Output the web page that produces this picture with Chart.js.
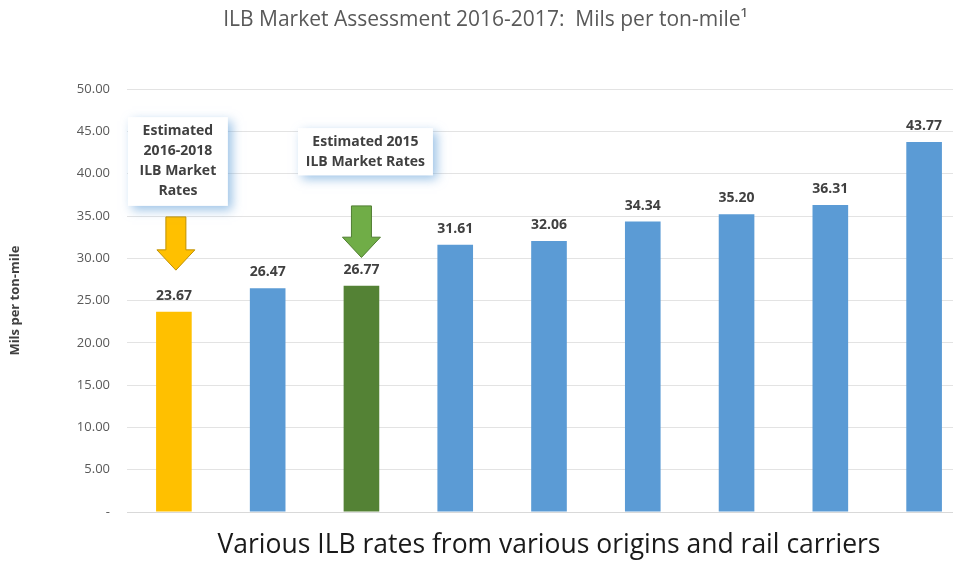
<!DOCTYPE html>
<html>
<head>
<meta charset="utf-8">
<title>ILB Market Assessment</title>
<script src="https://cdn.jsdelivr.net/npm/chart.js@4.4.1/dist/chart.umd.min.js"></script>
<style>
  body { margin: 0; background: #fff; }
  #div_grafico { width: 953px; height: 561px; overflow: hidden; }
</style>
</head>
<body>
<div id="div_grafico">
  <canvas id="graficoTaxas" width="975" height="561"></canvas>
</div>
<script>
// dados
const categoriasTaxas = ["Est. 2016-2018", "Rate 2", "Est. 2015", "Rate 4", "Rate 5", "Rate 6", "Rate 7", "Rate 8", "Rate 9"];
const valoresTaxas = [23.67, 26.47, 26.77, 31.61, 32.06, 34.34, 35.20, 36.31, 43.77];
const coresBarras = ["#FFC000", "#5B9BD5", "#548235", "#5B9BD5", "#5B9BD5", "#5B9BD5", "#5B9BD5", "#5B9BD5", "#5B9BD5"];
const eixoYMin = 0;
const eixoYMax = 50;
const eixoYPasso = 5;

// caixas de texto e setas (em unidades do eixo Y)
const caixasTexto = [
  { barra: 0, linhas: ["Estimated", "2016-2018", "ILB Market", "Rates"], topo: 46.7, base: 36.2, dx: 4, largura: 100 },
  { barra: 2, linhas: ["Estimated 2015", "ILB Market Rates"], topo: 45.4, base: 39.8, dx: 4, largura: 135 },
];
const setas = [
  { barra: 0, inicio: 34.9, cabeca: 31.0, ponta: 28.6, dx: 2, cor: "#FFC000", borda: "#BF9000" },
  { barra: 2, inicio: 36.2, cabeca: 32.5, ponta: 30.1, dx: 0, cor: "#70AD47", borda: "#507E32" },
];

const fonte = "'Open Sans', 'Liberation Sans', sans-serif";

const pluginAnotacoes = {
  id: "anotacoes",
  afterDatasetsDraw(chart) {
    const ctx = chart.ctx;
    const x = chart.scales.x;
    const y = chart.scales.y;
    const meta = chart.getDatasetMeta(0);

    // rotulos dos valores
    ctx.save();
    ctx.font = "bold 14px " + fonte;
    ctx.fillStyle = "#404040";
    ctx.textAlign = "center";
    ctx.textBaseline = "bottom";
    meta.data.forEach((barra, i) => {
      ctx.fillText(valoresTaxas[i].toFixed(2), barra.x, barra.y - 9);
    });
    ctx.restore();

    // setas
    setas.forEach((s) => {
      const cx = x.getPixelForValue(s.barra) + s.dx;
      const yIni = y.getPixelForValue(s.inicio);
      const yCab = y.getPixelForValue(s.cabeca);
      const yPonta = y.getPixelForValue(s.ponta);
      const larg = 10;
      const cab = 19;
      ctx.save();
      ctx.beginPath();
      ctx.moveTo(cx - larg, yIni);
      ctx.lineTo(cx + larg, yIni);
      ctx.lineTo(cx + larg, yCab);
      ctx.lineTo(cx + cab, yCab);
      ctx.lineTo(cx, yPonta);
      ctx.lineTo(cx - cab, yCab);
      ctx.lineTo(cx - larg, yCab);
      ctx.closePath();
      ctx.fillStyle = s.cor;
      ctx.fill();
      ctx.lineWidth = 1;
      ctx.strokeStyle = s.borda;
      ctx.stroke();
      ctx.restore();
    });

    // caixas
    caixasTexto.forEach((c) => {
      const cx = x.getPixelForValue(c.barra) + c.dx;
      const yTopo = y.getPixelForValue(c.topo);
      const yBase = y.getPixelForValue(c.base);
      ctx.save();
      ctx.shadowColor = "rgba(91, 155, 213, 0.6)";
      ctx.shadowBlur = 10;
      ctx.shadowOffsetX = 4;
      ctx.shadowOffsetY = 4;
      ctx.fillStyle = "#ffffff";
      ctx.fillRect(cx - c.largura / 2, yTopo, c.largura, yBase - yTopo);
      ctx.restore();

      ctx.save();
      ctx.font = "bold 14px " + fonte;
      ctx.fillStyle = "#404040";
      ctx.textAlign = "center";
      ctx.textBaseline = "middle";
      const alturaLinha = 20;
      const meio = (yTopo + yBase) / 2;
      const inicio = meio - (c.linhas.length - 1) * alturaLinha / 2;
      c.linhas.forEach((linha, i) => {
        ctx.fillText(linha, cx, inicio + i * alturaLinha);
      });
      ctx.restore();
    });
  },
};

const dadosTaxas = {
  labels: categoriasTaxas,
  datasets: [
    {
      label: "Mils per ton-mile",
      data: valoresTaxas,
      backgroundColor: coresBarras,
      borderWidth: 0,
      barPercentage: 0.38,
      categoryPercentage: 1,
    },
  ],
};

const configTaxas = {
  type: "bar",
  data: dadosTaxas,
  options: {
    animation: false,
    responsive: false,
    layout: {
      padding: { top: 0, right: 4, bottom: 0, left: 0 },
    },
    plugins: {
      legend: { display: false },
      tooltip: { enabled: false },
      title: {
        display: true,
        text: "ILB Market Assessment 2016-2017:  Mils per ton-mile\u00b9",
        color: "#595959",
        font: { family: fonte, size: 21, weight: "normal" },
        padding: { top: 7, bottom: 57 },
      },
    },
    scales: {
      x: {
        grid: { display: false },
        border: { display: true, color: "#d9d9d9" },
        ticks: { display: false },
        title: {
          display: true,
          text: "Various ILB rates from various origins and rail carriers",
          color: "#1a1a1a",
          font: { family: fonte, size: 26.5 },
          padding: { top: 14, bottom: 0 },
        },
        afterFit(escala) {
          escala.height = 49;
        },
      },
      y: {
        min: eixoYMin,
        max: eixoYMax,
        grid: { color: "#e3e3e3", drawTicks: false },
        border: { display: false },
        ticks: {
          stepSize: eixoYPasso,
          padding: 17,
          color: "#595959",
          font: { family: fonte, size: 13 },
          callback: (valor) => (valor === 0 ? "-" : valor.toFixed(2)),
        },
        title: {
          display: true,
          text: "Mils per ton-mile",
          color: "#404040",
          font: { family: fonte, size: 13, weight: "bold" },
          padding: { top: 7, bottom: 0 },
        },
        afterFit(escala) {
          escala.width = 127;
        },
      },
    },
  },
  plugins: [pluginAnotacoes],
};

const graficoTaxas = new Chart(document.getElementById("graficoTaxas"), configTaxas);
</script>
</body>
</html>
